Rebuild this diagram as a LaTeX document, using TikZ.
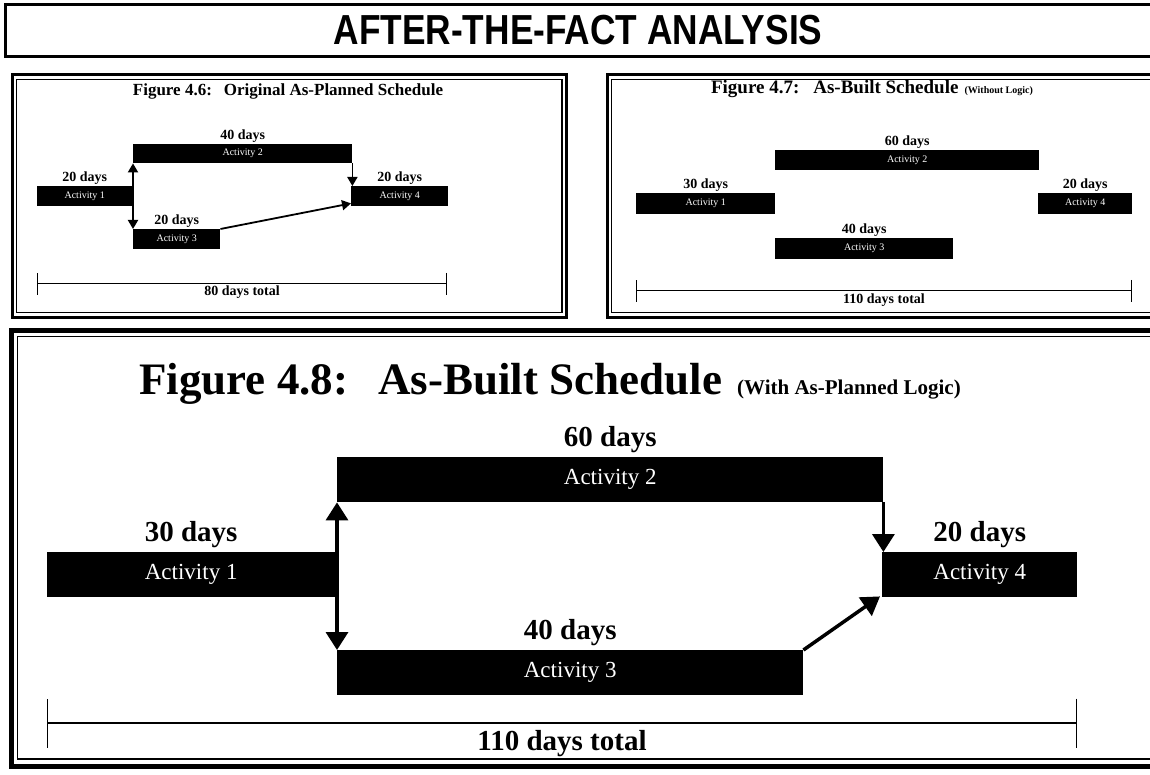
\documentclass[tikz,border=0pt]{standalone}
\usepackage{fontspec}
\setmainfont{Liberation Serif}
\newfontfamily\headfont[FakeStretch=0.84]{Liberation Sans}
\usetikzlibrary{arrows.meta,positioning}

\begin{document}
\begin{tikzpicture}[x=1pt,y=-1pt]

  \tikzset{act node/.style={rectangle, fill=black, text=white,
  		inner sep=0pt, anchor=north west}, }
  \tikzset{big act/.style={act node, minimum height=45,
  		font=\fontsize{23}{23}\selectfont}, }
  \tikzset{small act/.style={act node,
  		font=\fontsize{10}{10}\selectfont}, }
  \tikzset{big days/.style={inner sep=0pt,
  		font=\bfseries\fontsize{29}{29}\selectfont}, }
  \tikzset{small days/.style={inner sep=0pt,
  		font=\bfseries\fontsize{14}{14}\selectfont}, }
  \tikzset{linea/.style={-{Triangle[width=22pt,length=18pt]}, line width=3.5pt}, }
  \tikzset{lineab/.style={{Triangle[width=22pt,length=18pt]}-{Triangle[width=22pt,length=18pt]}, line width=3.5pt}, }
  \tikzset{linea small/.style={-{Triangle[width=10pt,length=9pt]}, line width=1.8pt}, }
  \tikzset{lineab small/.style={{Triangle[width=10pt,length=9pt]}-{Triangle[width=10pt,length=9pt]}, line width=1.8pt}, }
  \tikzset{span big/.style={{Bar[width=49pt]}-{Bar[width=49pt]}, line width=1.4pt}, }
  \tikzset{span small/.style={{Bar[width=22pt]}-{Bar[width=22pt]}, line width=1pt}, }

  \useasboundingbox (0,0) rectangle (1150,775);
  \clip (0,0) rectangle (1150,775);

  % frames
  \draw[line width=3pt] (5,5) rectangle (1170,57);
  \draw[line width=3pt] (12,75) rectangle (566,317);
  \draw[line width=1.2pt] (16.5,79.5) rectangle (562,312.5);
  \draw[line width=3pt] (607,75) rectangle (1170,317);
  \draw[line width=1.2pt] (611.5,79.5) rectangle (1170,312.5);
  \draw[line width=5pt] (11,330) rectangle (1170,766);
  \draw[line width=1.2pt] (17.5,336.5) rectangle (1170,759);

  \node[font=\headfont\bfseries\fontsize{42}{42}\selectfont] (title) at (578,30) {AFTER-THE-FACT ANALYSIS};

  % figure 4.6
  \node[font=\bfseries\fontsize{17}{17}\selectfont] (t1) at (288,91)
  	{Figure 4.6:\hspace{12pt}Original As-Planned Schedule};
  \node[small act, minimum width=95, minimum height=20] (a1) at (37,186) {Activity 1};
  \node[small act, minimum width=219, minimum height=19] (a2) at (133,144) {Activity 2};
  \node[small act, minimum width=87, minimum height=20] (a3) at (133,229) {Activity 3};
  \node[small act, minimum width=97, minimum height=20] (a4) at (351,186) {Activity 4};
  \node[small days, above=1pt of a1] (d1) {20 days};
  \node[small days, above=1pt of a2] (d2) {40 days};
  \node[small days, above=1pt of a3] (d3) {20 days};
  \node[small days, above=1pt of a4] (d4) {20 days};
  \coordinate (a l) at (37,284);
  \coordinate (a r) at (447,284);
  \draw[span small] (a l) -- (a r);
  \node[small days] (tot1) at (242,292) {80 days total};

  % figure 4.7
  \node[font=\bfseries\fontsize{19}{19}\selectfont] (t2) at (872,89)
  	{Figure 4.7:\hspace{14pt}As-Built Schedule\hspace{6pt}{\fontsize{10}{10}\selectfont(Without Logic)}};
  \node[small act, minimum width=139, minimum height=21] (b1) at (636,193) {Activity 1};
  \node[small act, minimum width=264, minimum height=20] (b2) at (775,150) {Activity 2};
  \node[small act, minimum width=178, minimum height=21] (b3) at (775,238) {Activity 3};
  \node[small act, minimum width=94, minimum height=21] (b4) at (1038,193) {Activity 4};
  \node[small days, above=1pt of b1] (e1) {30 days};
  \node[small days, above=1pt of b2] (e2) {60 days};
  \node[small days, above=1pt of b3] (e3) {40 days};
  \node[small days, above=1pt of b4] (e4) {20 days};
  \coordinate (b l) at (636,291);
  \coordinate (b r) at (1132,291);
  \draw[span small] (b l) -- (b r);
  \node[small days] (tot2) at (884,300) {110 days total};

  % figure 4.8
  \node[font=\bfseries\fontsize{45}{45}\selectfont] (t3) at (550,384)
  	{Figure 4.8:\hspace{30pt}As-Built Schedule\hspace{15pt}{\fontsize{21}{21}\selectfont(With As-Planned Logic)}};
  \node[big act, minimum width=288] (c1) at (47,552) {Activity 1};
  \node[big act, minimum width=546] (c2) at (337,457) {Activity 2};
  \node[big act, minimum width=466] (c3) at (337,650) {Activity 3};
  \node[big act, minimum width=195] (c4) at (882,552) {Activity 4};
  \node[big days, above=4pt of c1] (f1) {30 days};
  \node[big days, above=4pt of c2] (f2) {60 days};
  \node[big days, above=4pt of c3] (f3) {40 days};
  \node[big days, above=4pt of c4] (f4) {20 days};
  \coordinate (c l) at (47,723);
  \coordinate (c r) at (1077,723);
  \draw[span big] (c l) -- (c r);
  \node[big days] (tot3) at (562,744) {110 days total};

  % logic
  \draw[lineab small] (a2.south west) -- (a3.north west);
  \draw[linea small] (a2.south east) -- (a2.south east |- a4.north);
  \draw[linea small] (a3.north east) -- ([yshift=3pt]a4.south west);
  \draw[lineab] (c2.south west) -- (c3.north west);
  \draw[linea] (c2.south east) -- (c2.south east |- c4.north);
  \draw[linea] (c3.north east) -- ([xshift=-2pt,yshift=1pt]c4.south west);
%
\end{tikzpicture}
\end{document}
